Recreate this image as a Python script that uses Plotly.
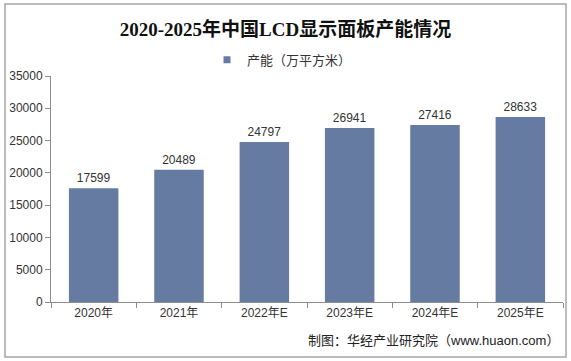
import plotly.graph_objects as go

categories = ["2020年", "2021年", "2022年E", "2023年E", "2024年E", "2025年E"]
values = [17599, 20489, 24797, 26941, 27416, 28633]
series_name = "产能（万平方米）"
y_ticks = [0, 5000, 10000, 15000, 20000, 25000, 30000, 35000]
y_tick_labels = [str(v) for v in y_ticks]

bar_color = "#667BA2"
font_sans = "Liberation Sans, Arial, Noto Sans CJK SC"

fig = go.Figure()
fig.add_trace(go.Bar(
    x=categories, y=values, name=series_name,
    marker=dict(color=bar_color, line=dict(width=0)),
    text=[str(v) for v in values], textposition="outside",
    textfont=dict(size=12, color="#333333", family=font_sans),
    cliponaxis=False, showlegend=False,
))
# legend entry with a small square swatch
fig.add_trace(go.Scatter(
    x=[None], y=[None], mode="markers", name=series_name,
    marker=dict(symbol="square", size=7, color=bar_color),
    showlegend=True,
))

fig.update_layout(
    width=571, height=361,
    margin=dict(l=51, r=8, t=76, b=59, autoexpand=False),
    paper_bgcolor="white", plot_bgcolor="white",
    bargap=0.42,
    title=dict(text="<b>2020-2025年中国LCD显示面板产能情况</b>",
               x=0.5, xanchor="center", y=0.92, yanchor="middle",
               font=dict(size=19, color="#111111",
                         family="Liberation Serif, Noto Sans CJK SC")),
    showlegend=True,
    legend=dict(orientation="h", x=(207-51)/512, xanchor="left", y=1.072, yanchor="middle",
                font=dict(size=13, color="#333333", family=font_sans),
                itemwidth=30, bgcolor="rgba(0,0,0,0)"),
    xaxis=dict(showline=True, linecolor="#8c8c8c", linewidth=1,
               ticks="outside", ticklen=5, tickcolor="#8c8c8c",
               tickson="boundaries",
               tickfont=dict(size=12, color="#333333", family=font_sans),
               showgrid=False),
    yaxis=dict(range=[0, 35000], tickvals=y_ticks, ticktext=y_tick_labels,
               showline=True,
               linecolor="#8c8c8c", linewidth=1, ticks="outside", ticklen=5,
               tickcolor="#8c8c8c", showgrid=False, zeroline=False,
               tickfont=dict(size=12, color="#333333", family=font_sans)),
    font=dict(family=font_sans),
)

# frame
fig.add_shape(type="rect", xref="paper", yref="paper",
              x0=-46/512, x1=(566-51)/512, y0=-(357-302)/226, y1=(302-4)/226,
              line=dict(color="#a6a6a6", width=1.5), layer="below")

# source
fig.add_annotation(text="制图：华经产业研究院（www.huaon.com）", xref="paper", yref="paper",
                   x=(561-51)/512, y=-(340-302)/226, xanchor="right", yanchor="middle",
                   showarrow=False,
                   font=dict(size=13, color="#222222", family=font_sans))

fig.write_html("out.html", config={"displayModeBar": False},
               post_script="document.body.style.margin='0px';document.body.style.overflow='hidden';")
